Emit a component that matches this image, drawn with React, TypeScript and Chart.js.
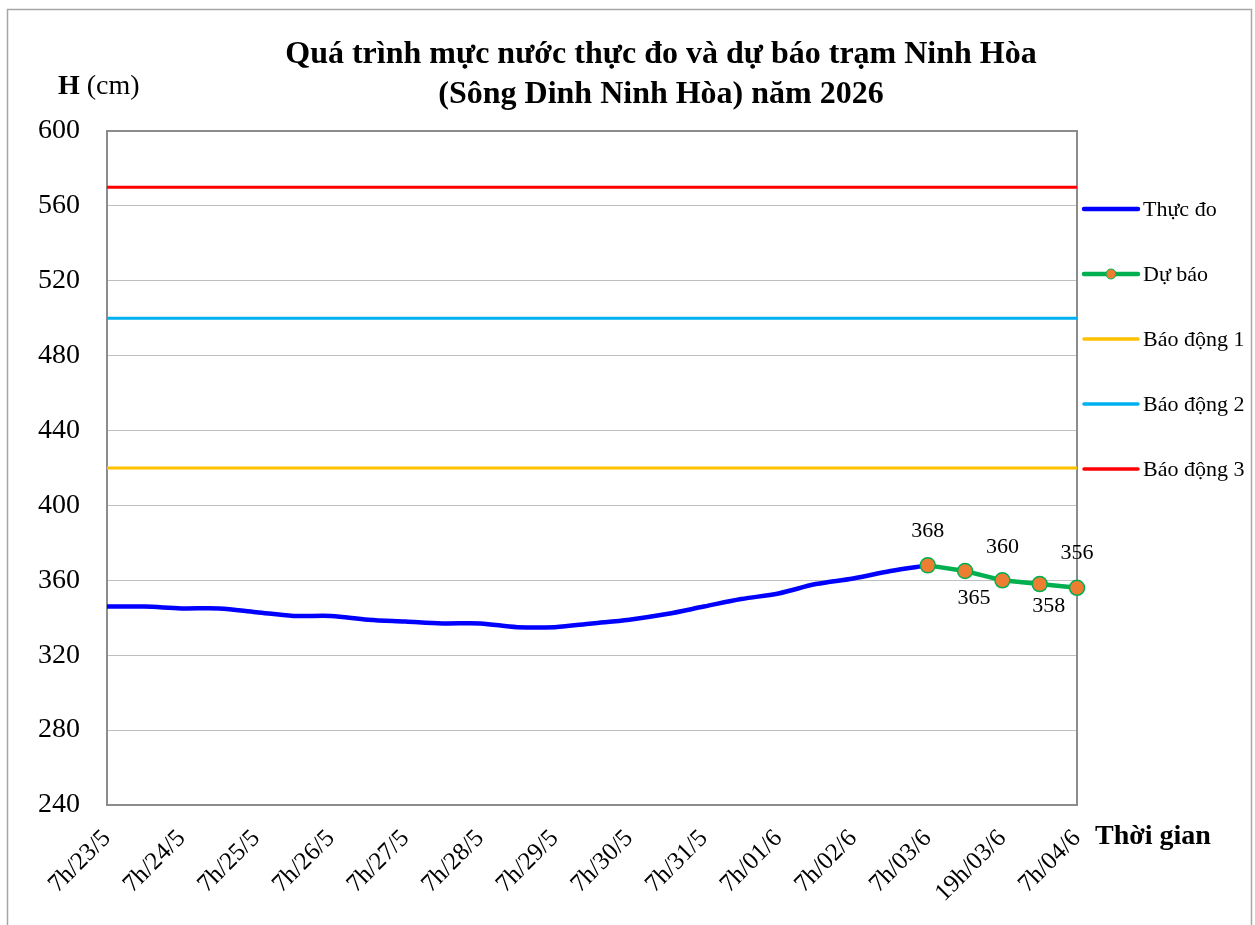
import React, { useEffect, useRef } from 'react';
import { Chart, registerables } from 'chart.js';

Chart.register(...registerables);

// ---- DATA ----
const categories = [
  '7h/23/5', '19h/23/5', '7h/24/5', '19h/24/5', '7h/25/5', '19h/25/5',
  '7h/26/5', '19h/26/5', '7h/27/5', '19h/27/5', '7h/28/5', '19h/28/5',
  '7h/29/5', '19h/29/5', '7h/30/5', '19h/30/5', '7h/31/5', '19h/31/5',
  '7h/01/6', '19h/01/6', '7h/02/6', '19h/02/6', '7h/03/6', '13h/03/6',
  '19h/03/6', '1h/04/6', '7h/04/6',
];

const shownTickLabels = [
  '7h/23/5', '7h/24/5', '7h/25/5', '7h/26/5', '7h/27/5', '7h/28/5',
  '7h/29/5', '7h/30/5', '7h/31/5', '7h/01/6', '7h/02/6', '7h/03/6',
  '19h/03/6', '7h/04/6',
];

const observedValues = [
  346, 346, 345, 345, 343, 341, 341, 339, 338, 337, 337, 335,
  335, 337, 339, 342, 346, 350, 353, 358, 361, 365, 368,
];

const forecastLabels = ['7h/03/6', '13h/03/6', '19h/03/6', '1h/04/6', '7h/04/6'];
const forecastValues = [368, 365, 360, 358, 356];

const alertNames = ['Báo động 1', 'Báo động 2', 'Báo động 3'];
const alertLevels = [420, 500, 570];
const alertColors = ['#FFC000', '#00B0F0', '#FF0000'];

const yMin = 240;
const yMax = 600;
const yStep = 40;

const titleLines = [
  'Quá trình mực nước thực đo và dự báo trạm Ninh Hòa',
  '(Sông Dinh Ninh Hòa) năm 2026',
];

const FONT = '"Liberation Serif", "Times New Roman", serif';

// label offsets (styling) for forecast data labels
const labelOffsets: [number, number][] = [
  [0, -34],
  [9, 27],
  [0, -33],
  [9, 22],
  [0, -35],
];

const overlayPlugin = {
  id: 'overlay',
  beforeDatasetsDraw(chart: any) {
    const ctx = chart.ctx;
    const { left, right, top, bottom } = chart.chartArea;
    ctx.save();
    ctx.strokeStyle = '#8C8C8C';
    ctx.lineWidth = 2;
    ctx.strokeRect(left, top, right - left, bottom - top);
    ctx.restore();
  },
  afterDatasetsDraw(chart: any) {
    const ctx = chart.ctx;
    const meta = chart.getDatasetMeta(1);
    ctx.save();
    ctx.font = `22px ${FONT}`;
    ctx.fillStyle = '#000';
    ctx.textAlign = 'center';
    ctx.textBaseline = 'middle';
    meta.data.forEach((pt: any, i: number) => {
      const off = labelOffsets[i] || [0, -30];
      ctx.fillText(String(forecastValues[i]), pt.x + off[0], pt.y + off[1]);
    });
    ctx.restore();
  },
  afterDraw(chart: any) {
    const ctx = chart.ctx;
    ctx.save();
    // outer frame
    ctx.strokeStyle = '#A6A6A6';
    ctx.lineWidth = 1.5;
    ctx.strokeRect(7.5, 9.5, 1244, 940);

    // title
    ctx.fillStyle = '#000';
    ctx.textAlign = 'center';
    ctx.textBaseline = 'alphabetic';
    ctx.font = `bold 32px ${FONT}`;
    ctx.fillText(titleLines[0], 661, 63);
    ctx.fillText(titleLines[1], 661, 103);

    // y axis title
    ctx.textAlign = 'left';
    ctx.font = `bold 28px ${FONT}`;
    ctx.fillText('H', 58, 94);
    const hw = ctx.measureText('H ').width;
    ctx.font = `28px ${FONT}`;
    ctx.fillText('(cm)', 58 + hw, 94);

    // x axis title
    ctx.font = `bold 28px ${FONT}`;
    ctx.fillText('Thời gian', 1095, 844);

    // legend
    const lx0 = 1084;
    const lx1 = 1138;
    const tx = 1143;
    const rows = [
      { name: 'Thực đo', color: '#0000FF', w: 4.5, y: 209, marker: false },
      { name: 'Dự báo', color: '#00B050', w: 4.5, y: 274, marker: true },
      { name: alertNames[0], color: alertColors[0], w: 3.5, y: 339, marker: false },
      { name: alertNames[1], color: alertColors[1], w: 3.5, y: 404, marker: false },
      { name: alertNames[2], color: alertColors[2], w: 3.5, y: 469, marker: false },
    ];
    ctx.font = `22px ${FONT}`;
    ctx.textBaseline = 'middle';
    rows.forEach((r) => {
      ctx.strokeStyle = r.color;
      ctx.lineWidth = r.w;
      ctx.lineCap = 'round';
      ctx.beginPath();
      ctx.moveTo(lx0, r.y);
      ctx.lineTo(lx1, r.y);
      ctx.stroke();
      if (r.marker) {
        ctx.beginPath();
        ctx.arc((lx0 + lx1) / 2, r.y, 5, 0, Math.PI * 2);
        ctx.fillStyle = '#ED7D31';
        ctx.fill();
        ctx.lineWidth = 1;
        ctx.strokeStyle = '#00B050';
        ctx.stroke();
      }
      ctx.fillStyle = '#000';
      ctx.fillText(r.name, tx, r.y + 1);
    });
    ctx.restore();
  },
};

export default function App() {
  const canvasRef = useRef<HTMLCanvasElement | null>(null);

  useEffect(() => {
    if (!canvasRef.current) return;
    const alertDatasets = alertLevels.map((lvl, i) => ({
      label: alertNames[i],
      data: [
        { x: categories[0], y: lvl },
        { x: categories[categories.length - 1], y: lvl },
      ],
      borderColor: alertColors[i],
      backgroundColor: alertColors[i],
      borderWidth: 3,
      pointRadius: 0,
      tension: 0,
      order: 3,
    }));

    const chart = new Chart(canvasRef.current, {
      type: 'line',
      data: {
        labels: categories,
        datasets: [
          {
            label: 'Thực đo',
            data: observedValues,
            borderColor: '#0000FF',
            backgroundColor: '#0000FF',
            borderWidth: 4.5,
            pointRadius: 0,
            tension: 0.35,
            order: 2,
          },
          {
            label: 'Dự báo',
            data: forecastLabels.map((l, i) => ({ x: l, y: forecastValues[i] })),
            borderColor: '#00B050',
            backgroundColor: '#ED7D31',
            borderWidth: 4.5,
            pointRadius: 7.5,
            pointBackgroundColor: '#ED7D31',
            pointBorderColor: '#00B050',
            pointBorderWidth: 1.5,
            tension: 0,
            clip: false,
            order: 1,
          } as any,
          ...alertDatasets,
        ],
      },
      options: {
        animation: false,
        responsive: false,
        layout: { padding: { left: 0, right: 178, top: 131, bottom: 0 } },
        plugins: {
          legend: { display: false },
          title: { display: false },
          tooltip: { enabled: false },
        },
        scales: {
          x: {
            type: 'category',
            offset: false,
            grid: { display: false, drawTicks: false },
            border: { display: false },
            ticks: {
              autoSkip: false,
              maxRotation: 45,
              minRotation: 45,
              padding: 19,
              color: '#000',
              font: { family: FONT, size: 25 },
              callback: function (this: any, value: any) {
                const lbl = this.getLabelForValue(value);
                return shownTickLabels.includes(lbl) ? lbl : '';
              },
            },
            afterFit: (s: any) => {
              s.height = 120;
            },
          },
          y: {
            min: yMin,
            max: yMax,
            grid: { color: '#BFBFBF', lineWidth: 1, drawTicks: false },
            border: { display: false },
            ticks: {
              stepSize: yStep,
              padding: 27,
              color: '#000',
              font: { family: FONT, size: 28 },
            },
            afterFit: (s: any) => {
              s.width = 107;
            },
          },
        },
      },
      plugins: [overlayPlugin],
    });
    return () => chart.destroy();
  }, []);

  return (
    <div style={{ position: 'absolute', left: 0, top: 0, width: 1255, height: 925, background: '#fff' }}>
      <canvas ref={canvasRef} width={1255} height={925} style={{ width: 1255, height: 925 }} />
    </div>
  );
}
